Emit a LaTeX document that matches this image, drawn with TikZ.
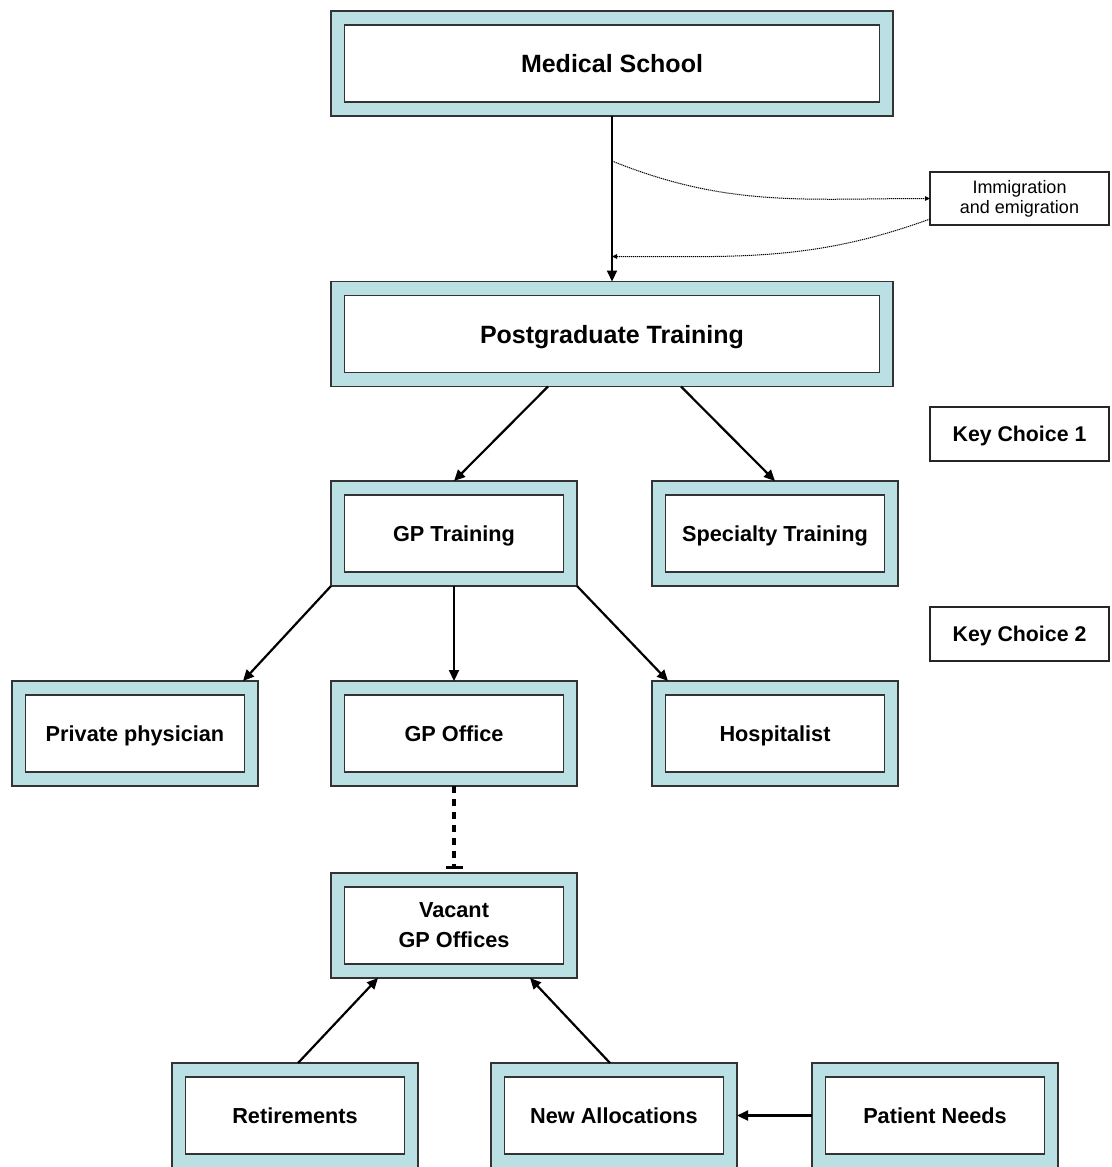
\documentclass[tikz,border=0pt]{standalone}
\usepackage{fontspec}
\setmainfont{Liberation Sans}
\usetikzlibrary{arrows.meta,calc}
\definecolor{boxblue}{RGB}{186,224,227}
\tikzset{
  outerbox/.style={draw=black!80, line width=1.4pt, fill=boxblue, inner sep=0pt, outer sep=0pt},
  innerbox/.style={draw=black!80, line width=1.4pt, fill=white, inner sep=0pt, outer sep=0pt, align=center},
  boxtext/.style={font=\bfseries\fontsize{21.7}{30}\selectfont, text height=15.6pt, text depth=0pt},
  twolinetext/.style={font=\bfseries\fontsize{21.7}{30}\selectfont},
  bigtext/.style={font=\bfseries\fontsize{25}{30}\selectfont, text height=18pt, text depth=0pt},
  keybox/.style={draw=black!85, line width=1.2pt, fill=white, inner sep=0pt, outer sep=0pt, align=center,
    minimum width=179pt, minimum height=54pt},
  keytext/.style={font=\bfseries\fontsize{21.3}{26}\selectfont, text height=15.3pt, text depth=0pt},
  flow/.style={line width=2.2pt, -{Triangle[length=11pt,width=10pt]}},
  dotflow/.style={line width=1pt, dash pattern=on 1.2pt off 0.8pt, -{Triangle[length=5pt,width=4.5pt]}},
}
\newcommand\twobox[6]{%
  \node[outerbox, minimum width=#4pt, minimum height=105pt] (#1) at (#2,#3) {};
  \node[innerbox, #6, minimum width=#4pt-27pt, minimum height=77pt] (#1i) at (#2,#3) {#5};
}
\begin{document}
\begin{tikzpicture}[x=1pt,y=-1pt]
\useasboundingbox (0,0) rectangle (1111,1167);
% boxes
\twobox{ms}{612}{63.5}{562}{Medical School}{bigtext}
\twobox{pg}{612}{334}{562}{Postgraduate Training}{bigtext}
\twobox{gpt}{454}{533.5}{246}{GP Training}{boxtext}
\twobox{spec}{775}{533.5}{246}{Specialty Training}{boxtext}
\twobox{pp}{135}{733.5}{246}{Private physician}{boxtext}
\twobox{gpo}{454}{733.5}{246}{GP Office}{boxtext}
\twobox{hosp}{775}{733.5}{246}{Hospitalist}{boxtext}
\twobox{vac}{454}{925.5}{246}{Vacant\\GP Offices}{twolinetext}
\twobox{ret}{295}{1115.5}{246}{Retirements}{boxtext}
\twobox{na}{614}{1115.5}{246}{New Allocations}{boxtext}
\twobox{pn}{935}{1115.5}{246}{Patient Needs}{boxtext}
\node[keybox, keytext] (kc1) at (1019.5,434) {Key Choice 1};
\node[keybox, keytext] (kc2) at (1019.5,634) {Key Choice 2};
\node[keybox, minimum height=53pt, font=\fontsize{18}{20}\selectfont] (imm) at (1019.5,198.5) {Immigration\\and emigration};
% connectors
\draw[flow] (ms.south) -- (pg.north);
\coordinate (out1) at ([yshift=-45pt]ms.south);
\coordinate (in1) at ([yshift=25pt]pg.north);
\draw[dotflow] (out1) to[out=-22, in=180] (imm.west);
\draw[dotflow] ([yshift=6pt]imm.south west) to[out=200, in=0] (in1);
\draw[flow] ([xshift=-64pt]pg.south) -- (gpt.north);
\draw[flow] ([xshift=69pt]pg.south) -- (spec.north);
\draw[flow] (gpt.south west) -- ([xshift=-15pt]pp.north east);
\draw[flow] (gpt.south) -- (gpo.north);
\draw[flow] (gpt.south east) -- ([xshift=16pt]hosp.north west);
\draw[line width=3.3pt, dash pattern=on 7pt off 6pt, shorten >=4pt, -{Bar[width=17pt,line width=3.3pt]}] (gpo.south) -- (vac.north);
\draw[flow] ([xshift=3pt]ret.north) -- ([xshift=-76pt]vac.south);
\draw[flow] ([xshift=-4pt]na.north) -- ([xshift=76pt]vac.south);
\draw[flow] (pn.west) -- (na.east);
\end{tikzpicture}
\end{document}
